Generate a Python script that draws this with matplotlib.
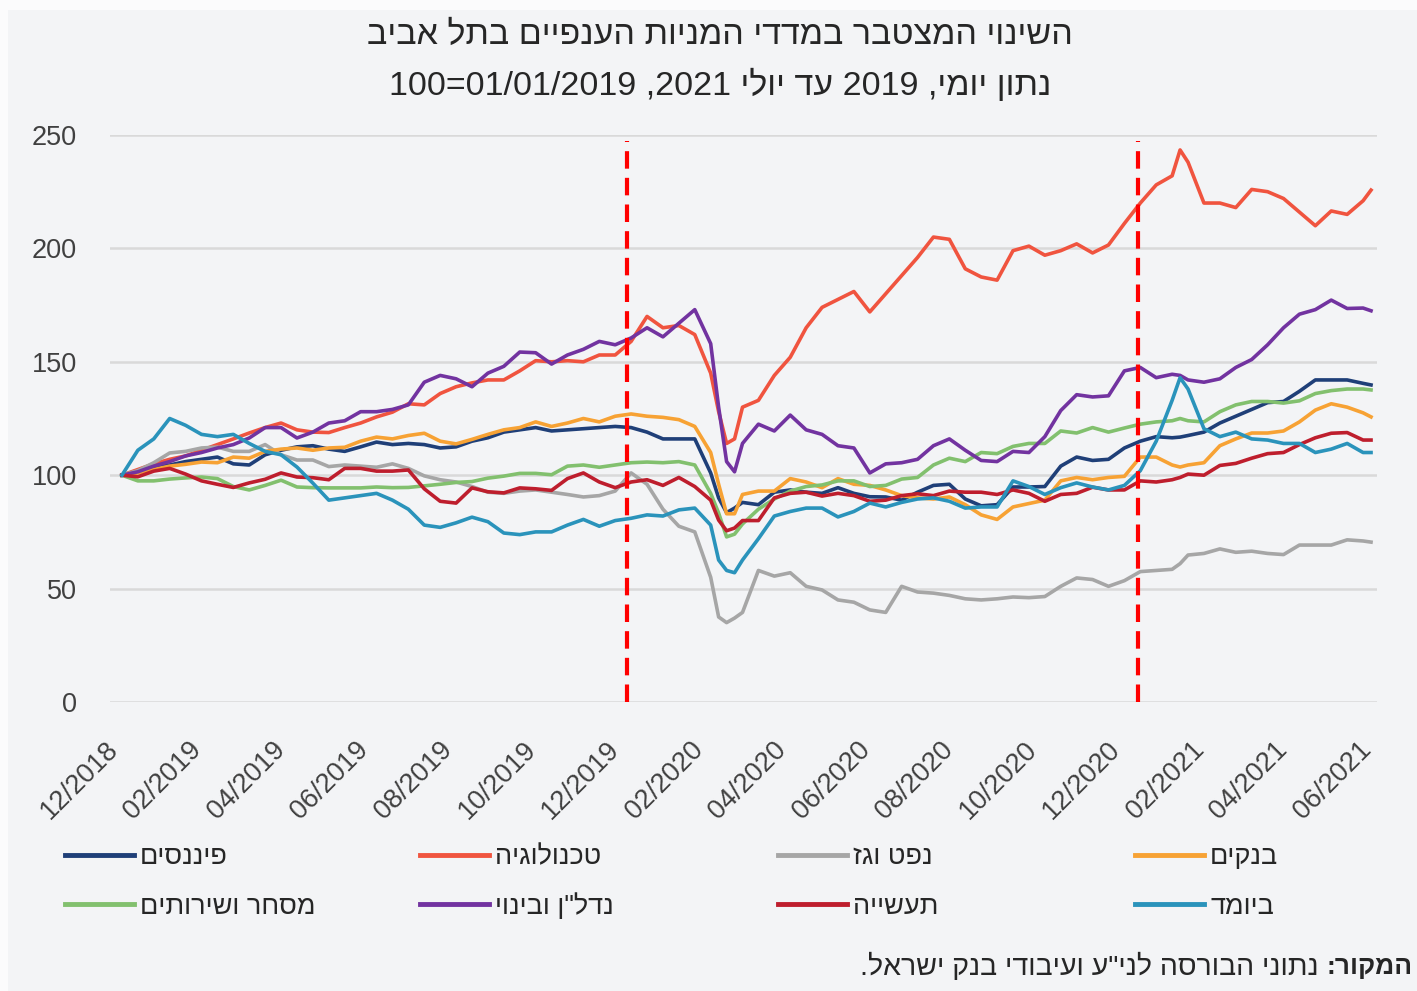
import re
import matplotlib
matplotlib.use("Agg")
import matplotlib.pyplot as plt
from matplotlib.lines import Line2D
from matplotlib.patches import Rectangle
from matplotlib.transforms import ScaledTranslation

plt.rcParams['font.family'] = ['Liberation Sans', 'DejaVu Sans']


def heb(s):
    # matplotlib draws left to right, so hebrew runs are reversed by hand
    runs = re.findall(r'[0-9/=.]+|[^0-9/=.]+', s)
    return ''.join(r if re.match(r'[0-9/=.]', r) else r[::-1] for r in reversed(runs))


# trading day number since 01/01/2019 (the chart has one point per trading day)
day = [0, 8, 16, 24, 32, 40, 48, 56, 64, 72, 80, 88, 96, 104, 112, 120, 128, 136, 144, 152,
       160, 168, 176, 184, 192, 200, 208, 216, 224, 232, 240, 248, 256, 264, 272, 280, 288,
       296, 300, 304, 308, 312,
       320, 328, 336, 344, 352, 360, 368, 376, 384, 392, 400, 408, 416, 424, 432, 440, 448,
       456, 464, 472, 480, 488, 496, 504, 512, 520, 528, 532,
       536, 544, 552, 560, 568, 576, 584, 592, 600, 608, 616, 624, 628]

finance = [100, 101.5, 103.5, 104.5, 106, 107, 108, 105, 104.5, 109, 111, 112.5, 113, 111.5, 110.5,
           112.5, 114.6, 113.5, 114, 113.5, 112, 112.5, 115, 116.5, 119, 120, 121, 119.5, 120, 120.5,
           121, 121.5, 121, 119, 116, 116, 116,
           101, 90, 83.5, 85.5, 88,
           87, 92.5, 93.5, 92.5, 92, 94.5, 92, 90.5, 90.4, 89, 92.5, 95.5, 96, 89.5, 86.5, 87, 94.8,
           94.8, 95, 104, 108, 106.5, 107, 112, 115, 117, 116.5, 116.8,
           117.5, 119, 123, 126, 129, 132, 132.5, 137, 142, 142, 142, 140.5, 139.8]

tech = [100, 102.5, 105, 107, 108.5, 111, 113.5, 116, 118.6, 121, 123, 120, 119, 118.8, 121,
        123, 125.7, 127.8, 131.5, 131, 136, 139, 140.7, 142, 142, 146, 150.5, 150, 150.5, 150,
        153, 153, 159, 170, 165, 166, 162,
        145, 128, 114, 116, 130,
        133, 144, 152, 165, 174, 177.5, 181, 172, 180, 188, 196, 205, 204, 191, 187.4, 186, 199,
        201, 197, 199, 202, 198, 201.5, 211, 220, 228, 232, 243.4,
        238, 220, 220, 218, 226, 225, 222, 216, 210, 216.5, 215, 221, 225.7]

oil_gas = [100, 102, 105.5, 109.8, 110.5, 112, 112.4, 110.5, 110.5, 113.5, 109, 106.7, 106.7, 103.8, 104.5,
           104, 103.5, 105, 103, 99.7, 98, 97, 95, 92.5, 92, 93, 93.5, 92.5, 91.5, 90.4,
           91, 93, 101, 96, 85, 77.5, 75,
           55, 37.5, 35, 37, 39.5,
           58, 55.5, 57, 51, 49.4, 45, 44, 40.6, 39.5, 51, 48.5, 48, 47, 45.5, 45, 45.5, 46.3,
           46, 46.5, 51, 54.7, 54, 51, 53.5, 57.5, 58, 58.5, 61,
           64.8, 65.5, 67.5, 66, 66.5, 65.5, 65, 69.2, 69.2, 69.2, 71.5, 71, 70.5]

banks = [100, 101, 102.5, 104, 104.8, 105.8, 105.5, 108, 107.5, 110.5, 111.5, 112, 111, 112, 112.3,
         115, 116.8, 116, 117.5, 118.5, 115, 113.8, 115.8, 118, 120, 121, 123.5, 121.5, 123, 125,
         123.5, 126, 127, 126, 125.5, 124.5, 121.5,
         110, 96, 83, 83, 91.5,
         93, 93, 98.5, 97, 94.5, 98.5, 96, 95.5, 93.5, 91, 90, 89.5, 90.4, 87, 82.5, 80.5, 86,
         87.5, 89, 97.5, 99, 98, 99, 99.5, 108, 108, 104.5, 103.6,
         104.5, 105.5, 113, 116, 118.6, 118.6, 119.5, 123.5, 128.7, 131.5, 130, 127.5, 125.7]

commerce = [100, 97.5, 97.5, 98.3, 98.8, 99.2, 98.5, 95, 93.5, 95.5, 97.8, 94.8, 94.5, 94.4, 94.4,
            94.4, 94.8, 94.5, 94.6, 95.3, 96, 96.8, 97.2, 98.7, 99.6, 100.8, 100.8, 100.2, 104, 104.5,
            103.5, 104.5, 105.5, 105.8, 105.5, 106, 104.5,
            92, 83.3, 72.8, 74, 78.5,
            85, 89.5, 93, 95, 95.7, 97.5, 97.5, 95, 95.5, 98.3, 99, 104.5, 107.5, 106, 110, 109.5, 112.7,
            114, 114, 119.5, 118.6, 121, 119, 120.8, 122.5, 123.5, 124, 125,
            124, 123.5, 128, 131, 132.5, 132.5, 131.8, 132.8, 136, 137.3, 138, 138, 137.6]

real_estate = [100, 101.5, 104, 106, 108.5, 110, 112, 113.5, 116.4, 121, 121, 116.4, 119, 123, 124,
               128, 128, 129, 131, 141, 144, 142.5, 139, 145, 148, 154.3, 154, 149, 153, 155.5,
               159, 157.5, 160.5, 165, 161, 167, 173,
               158, 130, 106, 101.5, 114,
               122.5, 119.5, 126.5, 120, 118, 113, 112, 101, 105, 105.5, 107, 113, 116, 111, 106.5, 106, 110.5,
               110, 117, 128.5, 135.5, 134.5, 135, 146, 147.5, 143, 144.5, 144,
               142, 141, 142.5, 147.5, 151, 157.5, 165, 171, 173, 177.2, 173.5, 173.7, 172.5]

industry = [100, 99.3, 101.8, 103, 100.5, 97.5, 96, 94.6, 96.6, 98.2, 101, 99.2, 98.9, 98, 103,
            103, 101.8, 101.8, 102.3, 94, 88.5, 87.7, 94.4, 92.7, 92.2, 94.4, 94, 93.3, 98.5, 101,
            97, 94.5, 97, 98, 95.5, 99, 95,
            89, 80.2, 75.5, 76.7, 80,
            80, 90, 92, 92.5, 90.8, 92, 91, 88.5, 89, 91, 91.8, 91, 93, 92.5, 92.5, 91.5, 93.5,
            92, 88.5, 91.5, 92, 94.7, 93.5, 93.5, 97.5, 97, 98, 99,
            100.5, 100, 104.3, 105.2, 107.5, 109.5, 110, 113.5, 116.5, 118.5, 118.8, 115.5, 115.5]

biomed = [100, 111, 116, 125, 122, 118, 117, 118, 114, 110.5, 109, 103.6, 96.5, 89, 90,
          91, 92, 89, 85, 78, 77, 79, 81.5, 79.5, 74.5, 73.8, 75, 75, 78, 80.5,
          77.5, 80, 81, 82.5, 82, 84.7, 85.5,
          78, 62.6, 58, 57, 62.6,
          72, 82, 84, 85.5, 85.5, 81.6, 84, 87.7, 86, 88, 89.5, 90, 88.5, 85.5, 86, 86, 97.5,
          95, 91.5, 94.5, 96.6, 94.8, 93.5, 95.5, 102, 115, 133, 143,
          138, 120.5, 117, 119, 116, 115.5, 114, 114, 110, 111.5, 114, 110, 110]

series = [finance, tech, oil_gas, banks, commerce, real_estate, industry, biomed]
names = ['פיננסים', 'טכנולוגיה', 'נפט וגז', 'בנקים',
         'מסחר ושירותים', 'נדל"ן ובינוי', 'תעשייה', 'ביומד']
colors = ['#1f3f78', '#f0543f', '#a6a6a6', '#f7a234',
          '#82c06e', '#7233a0', '#be1e2d', '#2a93bb']

# x tick labels, one every 42 trading days
tick_days = [0, 42, 84, 126, 168, 210, 252, 294, 336, 378, 420, 462, 504, 546, 588, 630]
tick_labels = ['12/2018', '02/2019', '04/2019', '06/2019', '08/2019', '10/2019', '12/2019', '02/2020',
               '04/2020', '06/2020', '08/2020', '10/2020', '12/2020', '02/2021', '04/2021', '06/2021']
marker_days = [254, 511]  # 01/01/2020 and 01/01/2021

title1 = 'השינוי המצטבר במדדי המניות הענפיים בתל אביב'
title2 = 'נתון יומי, 2019 עד יולי 2021, 100=01/01/2019'
source_head = 'המקור:'
source_body = 'נתוני הבורסה לני"ע ועיבודי בנק ישראל.'

W, H = 1417, 991
bg = '#f3f4f6'
txt = '#262626'
fig = plt.figure(figsize=(W / 100, H / 100), dpi=100)
fig.patch.set_facecolor('#fbfbfc')
fig.add_artist(Rectangle((8 / W, 0), 1, 1 - 10 / H, transform=fig.transFigure,
                         facecolor=bg, edgecolor='none', zorder=-10))

ax = fig.add_axes([110 / W, (H - 702) / H, (1377 - 110) / W, (702 - 135) / H])
ax.set_facecolor(bg)
ax.set_xlim(-6, 631)
ax.set_ylim(0, 250)

for vals, c in zip(series, colors):
    ax.plot(day, vals, color=c, lw=2.6, solid_joinstyle='round')

for d in marker_days:
    ax.axvline(d, ymin=0, ymax=0.99, color='#ff0000', lw=3, linestyle=(0, (4.2, 2.2)), zorder=5)

ax.set_yticks([0, 50, 100, 150, 200, 250])
ax.grid(axis='y', color='#d9d9d9', lw=1.8, zorder=0)
ax.set_axisbelow(True)
for s in ax.spines.values():
    s.set_visible(False)
ax.tick_params(axis='y', length=0, pad=24, labelsize=19.5, labelcolor='#404040')
ax.tick_params(axis='x', length=0, pad=25, labelsize=19.5, labelcolor='#404040')
ax.set_xticks(tick_days)
ax.set_xticklabels(tick_labels, rotation=45, ha='right', va='top', rotation_mode='anchor')
# nudge the slanted labels a little to the left, as in the original
shift = ScaledTranslation(-17 / 100, 0, fig.dpi_scale_trans)
for lbl in ax.get_xticklabels():
    lbl.set_transform(lbl.get_transform() + shift)

# titles
fig.text(720 / W, 1 - 35 / H, heb(title1), ha='center', va='center', fontsize=24.5, color=txt)
fig.text(720 / W, 1 - 85 / H, heb(title2), ha='center', va='center', fontsize=24.5, color=txt)

# legend: four columns of two entries each
col_x = [65, 420, 778, 1135]
for i, x in enumerate(col_x):
    hs = [Line2D([], [], color=colors[i], lw=3.5), Line2D([], [], color=colors[i + 4], lw=3.5)]
    fig.legend(hs, [heb(names[i]), heb(names[i + 4])], loc='center left',
               bbox_to_anchor=(x / W, 1 - 882 / H), frameon=False, fontsize=19.5,
               handlelength=2.55, handletextpad=0.22, labelspacing=0.85,
               borderpad=0, borderaxespad=0, labelcolor=txt)

# source line
head = fig.text(1413 / W, 1 - 967 / H, heb(source_head), ha='right', va='center',
                fontsize=19, fontweight='bold', color=txt)
ax.annotate(heb(source_body), xy=(0, 0.5), xycoords=head, xytext=(-6, 0),
            textcoords='offset points', ha='right', va='center', fontsize=20.5,
            color=txt, annotation_clip=False)

fig.savefig('out.png', dpi=100, facecolor=fig.get_facecolor())
